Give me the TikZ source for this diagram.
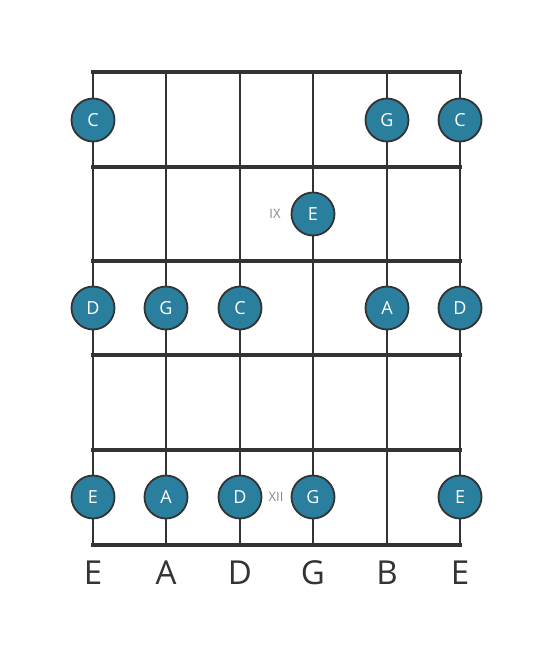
\documentclass[tikz,border=0pt]{standalone}
\usepackage{fontspec}
\setmainfont{Open Sans}
\definecolor{linec}{HTML}{333333}
\definecolor{notec}{HTML}{2A7F9E}
\definecolor{fretnum}{HTML}{888888}
\tikzset{
  fretline/.style={draw=linec, line width=4.5pt},
  stringline/.style={draw=linec, line width=2.6pt},
  note/.style={circle, fill=notec, draw=linec, line width=1.8pt, minimum size=43pt, inner sep=0pt, text=white, font=\fontsize{18}{18}\selectfont},
  fnum/.style={text=fretnum, font=\fontsize{13}{13}\selectfont},
  sname/.style={text=linec, font=\fontsize{33}{33}\selectfont},
}
\begin{document}
\begin{tikzpicture}[x=1pt,y=-1pt]
\useasboundingbox (0,0) rectangle (553,656);
\fill[white] (0,0) rectangle (553,656);
% strings
\foreach \x [count=\i] in {93,166,240,313,387,460}{
  \coordinate (st\i) at (\x,72);
  \coordinate (sb\i) at (\x,545);
  \draw[stringline] (st\i) -- (sb\i);
}
% frets
\foreach \y [count=\j] in {72,167,261,355,450,545}{
  \coordinate (fl\j) at (93,\y);
  \coordinate (fr\j) at (460,\y);
  \draw[fretline, line cap=rect] (fl\j) -- (fr\j);
}
% notes
\node[note] (n1) at (93,120) {C};
\node[note] (n2) at (387,120) {G};
\node[note] (n3) at (460,120) {C};
\node[note] (n4) at (313,214) {E};
\node[note] (n5) at (93,308) {D};
\node[note] (n6) at (166,308) {G};
\node[note] (n7) at (240,308) {C};
\node[note] (n8) at (387,308) {A};
\node[note] (n9) at (460,308) {D};
\node[note] (n10) at (93,497) {E};
\node[note] (n11) at (166,497) {A};
\node[note] (n12) at (240,497) {D};
\node[note] (n13) at (313,497) {G};
\node[note] (n14) at (460,497) {E};
% fret numbers
\node[fnum] (f9) at (275,214) {IX};
\node[fnum] (f12) at (276,497) {XII};
% string names
\node[sname] (s1) at (93,573) {E};
\node[sname] (s2) at (166,573) {A};
\node[sname] (s3) at (240,573) {D};
\node[sname] (s4) at (313,573) {G};
\node[sname] (s5) at (387,573) {B};
\node[sname] (s6) at (460,573) {E};
\end{tikzpicture}
\end{document}
